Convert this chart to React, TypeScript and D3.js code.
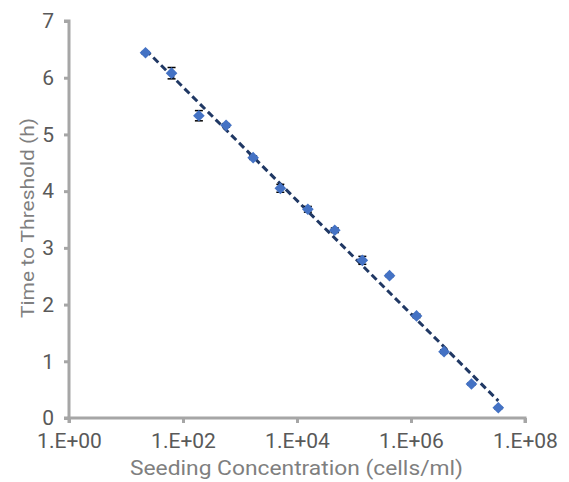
import { useRef, useEffect } from "react";
import * as d3 from "d3";

// seeding concentration (cells/ml)
const concentrations = [
  22, 63, 190, 570, 1700, 5100, 15500, 46000, 140000, 420000, 1250000, 3800000,
  11500000, 34000000,
];
// time to threshold (h)
const times = [6.44, 6.08, 5.33, 5.16, 4.59, 4.05, 3.68, 3.31, 2.78, 2.51, 1.8, 1.17, 0.6, 0.18];
// error bar half-widths (h)
const errors = [0.02, 0.1, 0.09, 0.03, 0.03, 0.07, 0.05, 0.04, 0.07, 0.02, 0.03, 0.03, 0.02, 0.02];

const xTicks = [1, 1e2, 1e4, 1e6, 1e8];
const xTickLabels = ["1.E+00", "1.E+02", "1.E+04", "1.E+06", "1.E+08"];
const yTicks = [0, 1, 2, 3, 4, 5, 6, 7];

const App = () => {
  const svgRef = useRef<SVGSVGElement>(null);

  useEffect(() => {
    const w = 569;
    const h = 482;
    const svg = d3.select(svgRef.current).attr("width", w).attr("height", h);
    svg.selectAll("*").remove();

    const left = 69;
    const right = 525;
    const top = 21;
    const bottom = 418;

    const x = d3.scaleLog().domain([1, 1e8]).range([left, right]);
    const y = d3.scaleLinear().domain([0, 7]).range([bottom, top]);

    const axisColor = "#a6a6a6";
    const textColor = "#595959";
    const font = "Roboto, 'Noto Sans', sans-serif";

    // axes
    const yAxis = svg
      .append("g")
      .attr("transform", `translate(${left},0)`)
      .call(d3.axisLeft(y).tickValues(yTicks).tickSize(5).tickPadding(10).tickFormat(d3.format("d")));
    const xAxis = svg
      .append("g")
      .attr("transform", `translate(0,${bottom})`)
      .call(
        d3
          .axisBottom(x)
          .tickValues(xTicks)
          .tickSize(5)
          .tickPadding(10)
          .tickFormat((d, i) => xTickLabels[i])
      );
    [yAxis, xAxis].forEach((g) => {
      g.select(".domain").attr("stroke", axisColor).attr("stroke-width", 3);
      g.selectAll(".tick line").attr("stroke", axisColor).attr("stroke-width", 3);
      g.selectAll(".tick text")
        .attr("fill", textColor)
        .style("font-family", font)
        .style("font-size", "21px");
    });
    yAxis.select(".domain").attr("d", `M-5,${bottom}H0V${top}H-5`);
    xAxis.select(".domain").attr("d", `M${left},5V0H${right}V5`);

    // trendline: y = a*log10(x) + b fitted to the data
    const lx = concentrations.map((c) => Math.log10(c));
    const mx = d3.mean(lx)!;
    const my = d3.mean(times)!;
    const a =
      d3.sum(lx, (v, i) => (v - mx) * (times[i] - my)) / d3.sum(lx, (v) => (v - mx) * (v - mx));
    const b = my - a * mx;
    const ends = [concentrations[0], concentrations[concentrations.length - 1]];
    svg
      .append("path")
      .datum(ends)
      .attr(
        "d",
        d3
          .line<number>()
          .x((d) => x(d))
          .y((d) => y(a * Math.log10(d) + b))
      )
      .attr("fill", "none")
      .attr("stroke", "#203864")
      .attr("stroke-width", 3)
      .attr("stroke-dasharray", "7,4");

    // error bars
    const eb = svg.append("g").attr("stroke", "#000").attr("stroke-width", 1.5);
    concentrations.forEach((c, i) => {
      const cx = x(c);
      const y1 = y(times[i] + errors[i]);
      const y2 = y(times[i] - errors[i]);
      eb.append("line").attr("x1", cx).attr("x2", cx).attr("y1", y1).attr("y2", y2);
      eb.append("line").attr("x1", cx - 4).attr("x2", cx + 4).attr("y1", y1).attr("y2", y1);
      eb.append("line").attr("x1", cx - 4).attr("x2", cx + 4).attr("y1", y2).attr("y2", y2);
    });

    // markers
    svg
      .append("g")
      .selectAll("path")
      .data(concentrations)
      .join("path")
      .attr("d", d3.symbol(d3.symbolSquare, 68)())
      .attr("transform", (d, i) => `translate(${x(d)},${y(times[i])}) rotate(45)`)
      .attr("fill", "#4472c4");

    // axis titles
    svg
      .append("text")
      .attr("x", 296.5)
      .attr("y", 475)
      .attr("text-anchor", "middle")
      .attr("fill", "#7f7f7f")
      .attr("textLength", 333)
      .attr("lengthAdjust", "spacingAndGlyphs")
      .style("font-family", font)
      .style("font-size", "20px")
      .text("Seeding Concentration (cells/ml)");
    svg
      .append("text")
      .attr("transform", `translate(34,218) rotate(-90)`)
      .attr("text-anchor", "middle")
      .attr("fill", "#7f7f7f")
      .attr("textLength", 200)
      .attr("lengthAdjust", "spacingAndGlyphs")
      .style("font-family", font)
      .style("font-size", "19px")
      .text("Time to Threshold (h)");
  }, []);

  return (
    <div style={{ position: "absolute", left: 0, top: 0 }}>
      <svg ref={svgRef}></svg>
    </div>
  );
};

export default App;
